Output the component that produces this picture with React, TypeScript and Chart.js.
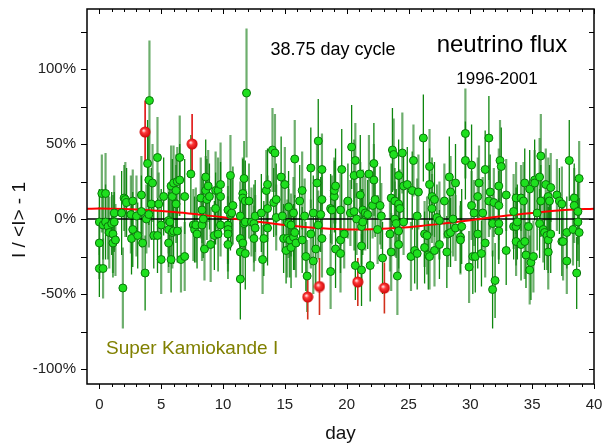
import { useEffect, useRef } from 'react';
import { Chart, registerables } from 'chart.js';

Chart.register(...registerables);

const FONT = '"Liberation Sans", Arial, sans-serif';

// axis ticks
const xTickValues = [0, 5, 10, 15, 20, 25, 30, 35, 40];
const xMinorValues = [1, 2, 3, 4, 6, 7, 8, 9, 11, 12, 13, 14, 16, 17, 18, 19, 21, 22, 23, 24, 26, 27, 28, 29, 31, 32, 33, 34, 36, 37, 38, 39];
const yTickValues = [-100, -50, 0, 50, 100];
const yAllTickValues = [-100, -75, -50, -25, 0, 25, 50, 75, 100, 125];

// [day, I/<I>-1 (%), error (%)] — green points, by day range
const greenDays0to6: number[][] = [
  [0.0, -2, 22], [0.0, -16, 24], [0.0, -33, 19], [0.2, 17, 26], [0.3, -4, 23], [0.3, -33, 20], [0.5, -2, 25], [0.5, 17, 27],
  [0.7, -5, 22], [0.8, -9, 24], [1.0, -3, 21], [1.1, -10, 26], [1.1, -16, 23], [1.2, 4, 25], [1.2, -2, 20], [1.3, -14, 24],
  [1.8, 4, 28], [1.9, -46, 27], [2.0, 14, 22], [2.1, 13, 25], [2.2, 11, 23], [2.55, 3, 26], [2.6, -13, 24], [2.7, 12, 21],
  [2.7, -7, 25], [3.0, 2, 27], [3.1, -11, 22], [3.4, 16, 26], [3.4, 5, 24], [3.5, -16, 20], [3.7, -36, 25], [3.8, 0, 23],
  [3.9, 37, 29], [4.0, 3, 22], [4.0, 26, 30], [4.05, 79, 40], [4.2, 10, 24], [4.3, 24, 26], [4.4, -11, 22], [4.7, 41, 27],
  [4.7, -11, 25], [4.8, 10, 21], [5.0, -4, 24], [5.0, -27, 23], [5.2, 15, 26], [5.6, -1, 22], [5.6, -7, 25], [5.6, -16, 20],
  [5.7, -2, 23], [5.8, 22, 27], [5.8, -27, 22], [5.9, -9, 24], [5.9, 15, 25],
];
const greenDays6to12: number[][] = [
  [6.0, 24, 25], [6.0, -8, 22], [6.2, 19, 24], [6.2, 10, 26], [6.3, 25, 23], [6.3, -8, 21], [6.5, 41, 28], [6.5, 26, 24],
  [6.6, -27, 22], [6.9, 15, 25], [6.9, -25, 23], [7.4, 30, 26], [7.6, -4, 24], [7.7, -7, 22], [7.8, -4, 25], [7.9, -10, 23],
  [8.2, 14, 27], [8.3, 6, 22], [8.3, -4, 24], [8.4, 0, 26], [8.5, -20, 21], [8.6, 28, 25], [8.6, 19, 23], [8.7, 13, 27],
  [8.8, 22, 24], [8.9, 15, 22], [9.0, -17, 25], [9.3, -11, 23], [9.4, 19, 26], [9.4, 7, 24], [9.6, 19, 22], [9.6, -10, 25],
  [9.8, 23, 28], [9.8, 15, 23], [9.8, -4, 21], [10.4, 6, 24], [10.4, -4, 26], [10.4, -7, 22], [10.4, -10, 25], [10.4, -17, 23],
  [10.6, 29, 27], [10.6, 3, 24], [10.7, 4, 22], [10.8, 9, 26], [11.4, 2, 23], [11.4, -13, 25], [11.4, -22, 21], [11.4, -40, 27],
  [11.6, 17, 24], [11.6, 14, 26], [11.6, -16, 22], [11.7, 27, 25], [11.7, -3, 23], [11.8, 12, 27], [11.8, -2, 22], [11.8, -23, 24],
  [11.9, 84, 43], [12.1, 12, 25], [12.3, -2, 23], [12.5, -3, 26], [12.5, -13, 22],
];
const greenDays12to19: number[][] = [
  [12.6, 2, 24], [12.6, -6, 22], [13.1, 4, 26], [13.2, -27, 23], [13.3, -13, 25], [13.5, 19, 27], [13.6, 23, 24], [13.6, 7, 22],
  [13.6, -6, 25], [14.0, 46, 28], [14.1, 11, 23], [14.2, 44, 26], [14.3, 13, 24], [14.3, 1, 22], [14.7, 28, 27], [14.8, 2, 24],
  [14.9, -13, 23], [15.0, 23, 25], [15.1, -21, 22], [15.2, -13, 26], [15.3, 8, 24], [15.3, -3, 23], [15.4, -14, 25], [15.5, -4, 21],
  [15.5, -19, 27], [15.7, 4, 24], [15.7, -12, 22], [15.8, 40, 26], [15.8, -9, 25], [15.9, -16, 23], [16.2, 12, 24], [16.4, 19, 26],
  [16.4, -14, 22], [16.6, 2, 25], [16.7, -25, 23], [16.8, -38, 24], [17.1, 34, 27], [17.1, -10, 23], [17.3, 4, 25], [17.3, -28, 22],
  [17.5, -20, 24], [17.6, 24, 26], [17.7, 52, 28], [17.7, -4, 23], [17.9, 3, 25], [18.0, 33, 24], [18.0, 13, 22], [18.0, -13, 26],
  [18.7, 7, 23], [18.7, -35, 25], [19.0, 15, 24], [19.0, 19, 22], [19.1, -20, 26],
];
const greenDays19to25: number[][] = [
  [18.8, 6, 23], [19.1, 22, 25], [19.5, 6, 24], [19.5, -14, 22], [19.5, -23, 26], [19.6, 33, 27], [19.8, -10, 23], [20.1, 12, 25],
  [20.3, 4, 22], [20.4, 48, 28], [20.6, 29, 24], [20.6, 5, 26], [20.7, 39, 25], [20.7, -31, 23], [20.8, 0, 24], [21.1, 30, 26],
  [21.1, 16, 22], [21.2, -5, 25], [21.2, -18, 23], [21.2, -34, 24], [21.3, 6, 27], [21.3, -2, 22], [21.5, 4, 25], [21.7, 3, 23],
  [21.8, 30, 26], [21.9, -31, 24], [22.1, 9, 22], [22.2, 37, 27], [22.2, 26, 24], [22.3, 13, 25], [22.5, -7, 23], [22.7, 9, 26],
  [22.8, 2, 22], [22.9, -26, 24], [23.5, -10, 25], [23.6, 14, 23], [23.6, -22, 26], [23.7, 46, 28], [23.8, 43, 24], [23.9, 12, 22],
  [23.9, 0, 25], [24.0, -3, 23], [24.1, -38, 26], [24.2, 29, 24], [24.2, 10, 22], [24.2, -8, 25], [24.2, -17, 23], [24.3, 7, 26],
  [24.5, 44, 27], [24.6, 22, 24], [24.6, -2, 22], [24.9, 23, 25], [25.2, -25, 23], [25.3, 19, 26], [25.4, 39, 24], [25.5, -21, 22],
  [25.7, 2, 25], [25.7, -23, 24],
];
const greenDays25to32: number[][] = [
  [25.8, 18, 25], [26.2, 54, 29], [26.3, -10, 22], [26.3, -19, 24], [26.5, -11, 26], [26.6, -24, 23], [26.7, 35, 25], [26.7, 23, 24],
  [26.7, -25, 22], [26.9, 15, 26], [26.9, 7, 23], [27.1, 13, 25], [27.1, -21, 24], [27.3, 1, 22], [27.5, -1, 26], [27.5, -17, 23],
  [27.9, 12, 25], [28.1, -22, 24], [28.2, -10, 22], [28.3, 28, 27], [28.4, 18, 24], [28.4, -9, 23], [28.6, 0, 25], [28.8, 24, 26],
  [28.8, -6, 22], [29.2, -12, 24], [29.2, -14, 23], [29.3, -5, 25], [29.6, 57, 30], [29.6, 39, 26], [29.9, -32, 24], [30.1, 36, 27],
  [30.1, 9, 23], [30.2, -25, 25], [30.3, 4, 22], [30.4, -25, 24], [30.6, 15, 26], [30.6, -10, 23], [30.7, 24, 25], [30.9, -23, 22],
  [31.0, 4, 24], [31.2, 33, 26], [31.2, -16, 23], [31.5, 54, 28], [31.5, 12, 24], [31.6, 18, 25], [31.8, -3, 22], [31.8, -47, 26],
  [31.9, 11, 23], [32.0, -41, 25],
];
const greenDays32to39: number[][] = [
  [32.3, 22, 25], [32.3, 9, 23], [32.3, -3, 24], [32.3, -8, 22], [32.4, 39, 27], [32.5, 35, 26], [32.9, 16, 24], [32.9, -21, 23],
  [33.5, 5, 25], [33.5, -5, 22], [33.7, 14, 24], [33.7, -5, 26], [33.7, -15, 23], [33.8, -2, 25], [34.1, 14, 22], [34.1, -17, 24],
  [34.3, 12, 26], [34.4, 24, 23], [34.4, -15, 25], [34.5, -24, 22], [34.7, -5, 24], [34.8, 20, 26], [34.8, -34, 23], [34.9, -29, 25],
  [35.1, -25, 24], [35.2, 26, 27], [35.2, 24, 22], [35.4, 4, 25], [35.6, 28, 26], [35.6, -3, 23], [35.7, 42, 28], [35.7, 12, 24],
  [35.9, -7, 22], [36.0, -9, 25], [36.1, 23, 24], [36.2, -11, 23], [36.3, 15, 26], [36.3, -14, 22], [36.3, -22, 25], [36.4, 12, 24],
  [36.5, 21, 23], [36.5, -10, 26], [37.0, 16, 24], [37.2, 12, 22], [37.4, 10, 25], [37.4, -15, 23], [37.5, -15, 26], [37.8, -9, 24],
  [37.8, -28, 22], [38.0, 39, 27], [38.3, -7, 24], [38.4, 14, 23], [38.4, 9, 25], [38.6, -36, 24], [38.7, 5, 22], [38.7, -2, 26],
  [38.8, 27, 25], [38.8, -9, 23],
];

// red (flagged) points
const redDays = [3.7, 7.5, 16.85, 17.8, 20.9, 23.05];
const redValues = [58, 50, -52, -45, -42, -46];
const redErrors = [21, 20, 15, 19, 16, 17];

// 38.75-day cycle fit curve
const fitDays = [-1, 0, 2, 4, 6, 8, 10, 12, 14, 16, 18, 20, 22, 24, 26, 28, 30, 32, 34, 36, 38, 40];
const fitValues = [6.8, 7.0, 6.6, 5.8, 4.6, 3.0, 1.2, -1.0, -3.0, -4.8, -6.2, -7.0, -6.9, -6.0, -4.6, -2.8, -0.8, 1.3, 3.2, 4.9, 6.2, 6.9];

const greenPoints = [
  ...greenDays0to6, ...greenDays6to12, ...greenDays12to19,
  ...greenDays19to25, ...greenDays25to32, ...greenDays32to39,
];

function makeRedBall(): HTMLCanvasElement {
  const c = document.createElement('canvas');
  c.width = 12; c.height = 12;
  const g = c.getContext('2d')!;
  const grad = g.createRadialGradient(4.5, 4.5, 0.5, 6, 6, 6);
  grad.addColorStop(0, '#ffe0e0');
  grad.addColorStop(0.3, '#ff3a3a');
  grad.addColorStop(1, '#c80000');
  g.fillStyle = grad;
  g.beginPath();
  g.arc(6, 6, 5.5, 0, Math.PI * 2);
  g.fill();
  return c;
}

const errorBarPlugin = {
  id: 'errorBars',
  beforeDatasetsDraw(chart: any) {
    const { ctx, chartArea: a, scales } = chart;
    const xs = scales.x, ys = scales.y;
    ctx.save();
    ctx.beginPath();
    ctx.rect(a.left, a.top, a.right - a.left, a.bottom - a.top);
    ctx.clip();
    greenPoints.forEach((p, i) => {
      const px = xs.getPixelForValue(p[0]);
      const y1 = ys.getPixelForValue(p[1] + p[2]);
      const y2 = ys.getPixelForValue(p[1] - p[2]);
      ctx.beginPath();
      if (i % 2 === 0) {
        ctx.strokeStyle = '#0d860d';
        ctx.lineWidth = 1.3;
      } else {
        ctx.strokeStyle = 'rgba(40,135,40,0.68)';
        ctx.lineWidth = 2.2;
      }
      ctx.moveTo(px, y1);
      ctx.lineTo(px, y2);
      ctx.stroke();
    });
    redDays.forEach((d, i) => {
      const px = xs.getPixelForValue(d);
      ctx.beginPath();
      ctx.strokeStyle = i < 2 ? '#e01010' : '#d2301c';
      ctx.lineWidth = 1.6;
      ctx.moveTo(px, ys.getPixelForValue(redValues[i] + redErrors[i]));
      ctx.lineTo(px, ys.getPixelForValue(redValues[i] - redErrors[i]));
      ctx.stroke();
    });
    ctx.restore();
  },
};

const framePlugin = {
  id: 'frameAndText',
  afterDraw(chart: any) {
    const { ctx, chartArea: a, scales } = chart;
    const xs = scales.x, ys = scales.y;
    ctx.save();
    ctx.strokeStyle = '#000';
    ctx.lineWidth = 1.5;
    ctx.strokeRect(a.left, a.top, a.right - a.left, a.bottom - a.top);
    ctx.lineWidth = 1;
    ctx.beginPath();
    xTickValues.forEach((v) => {
      const px = Math.round(xs.getPixelForValue(v)) + 0.5;
      ctx.moveTo(px, a.bottom); ctx.lineTo(px, a.bottom + 5);
      ctx.moveTo(px, a.top); ctx.lineTo(px, a.top + 5);
    });
    xMinorValues.forEach((v) => {
      const px = Math.round(xs.getPixelForValue(v)) + 0.5;
      ctx.moveTo(px, a.bottom); ctx.lineTo(px, a.bottom + 3);
      ctx.moveTo(px, a.top); ctx.lineTo(px, a.top + 3);
    });
    yAllTickValues.forEach((v) => {
      const py = Math.round(ys.getPixelForValue(v)) + 0.5;
      ctx.moveTo(a.left - 6, py); ctx.lineTo(a.left, py);
      ctx.moveTo(a.right, py); ctx.lineTo(a.right - 5, py);
    });
    ctx.stroke();

    ctx.fillStyle = '#000';
    ctx.textAlign = 'center';
    ctx.textBaseline = 'alphabetic';
    ctx.font = `18px ${FONT}`;
    ctx.fillText('38.75 day cycle', 333, 55);
    ctx.font = `24px ${FONT}`;
    ctx.fillText('neutrino flux', 502, 52);
    ctx.font = `17px ${FONT}`;
    ctx.fillText('1996-2001', 497, 84);

    ctx.textAlign = 'left';
    ctx.fillStyle = '#808000';
    ctx.font = `19px ${FONT}`;
    ctx.fillText('Super Kamiokande I', 106, 354);

    ctx.fillStyle = '#111';
    ctx.textAlign = 'center';
    ctx.font = `19px ${FONT}`;
    ctx.fillText('day', (a.left + a.right) / 2, 439);

    ctx.save();
    ctx.translate(25, 220);
    ctx.rotate(-Math.PI / 2);
    ctx.fillText('I / <I> - 1', 0, 0);
    ctx.restore();

    ctx.restore();
  },
};

export default function App() {
  const canvasRef = useRef<HTMLCanvasElement | null>(null);

  useEffect(() => {
    const canvas = canvasRef.current;
    if (!canvas) return;
    const redBall = makeRedBall();
    const chart = new Chart(canvas, {
      type: 'scatter',
      data: {
        datasets: [
          {
            label: 'zero',
            data: [{ x: -1, y: 0 }, { x: 40, y: 0 }],
            showLine: true,
            borderColor: '#000',
            borderWidth: 1.5,
            pointRadius: 0,
            order: 4,
          },
          {
            label: 'fit',
            data: fitDays.map((d, i) => ({ x: d, y: fitValues[i] })),
            showLine: true,
            borderColor: '#ff0000',
            borderWidth: 2,
            pointRadius: 0,
            tension: 0.4,
            order: 3,
          },
          {
            label: 'data',
            data: greenPoints.map((p) => ({ x: p[0], y: p[1] })),
            backgroundColor: '#1ee01e',
            borderColor: '#0a760a',
            borderWidth: 1,
            pointRadius: 4,
            order: 2,
          },
          {
            label: 'flagged',
            data: redDays.map((d, i) => ({ x: d, y: redValues[i] })),
            pointStyle: redBall as any,
            backgroundColor: '#ff2020',
            borderColor: '#c00000',
            order: 1,
          },
        ],
      },
      options: {
        responsive: false,
        animation: false,
        events: [],
        layout: { padding: { top: 9, right: 14, left: 0, bottom: 0 } },
        plugins: { legend: { display: false }, tooltip: { enabled: false } },
        scales: {
          x: {
            type: 'linear',
            min: -1,
            max: 40,
            grid: { display: false, drawTicks: false },
            border: { display: false },
            ticks: { font: { family: FONT, size: 15 }, color: '#222', padding: 12, maxRotation: 0, autoSkip: false },
            afterBuildTicks: (s: any) => { s.ticks = xTickValues.map((v) => ({ value: v })); },
            afterFit: (s: any) => {
              s.height = 60;
              s.paddingLeft = 0; s.paddingRight = 0; s.paddingTop = 0; s.paddingBottom = 0;
            },
          },
          y: {
            type: 'linear',
            min: -110,
            max: 140,
            grid: { display: false, drawTicks: false },
            border: { display: false },
            ticks: {
              font: { family: FONT, size: 15 },
              color: '#222',
              padding: 11,
              callback: (v: any) => `${v}%`,
            },
            afterBuildTicks: (s: any) => { s.ticks = yTickValues.map((v) => ({ value: v })); },
            afterFit: (s: any) => {
              s.width = 87;
              s.paddingLeft = 0; s.paddingRight = 0; s.paddingTop = 0; s.paddingBottom = 0;
            },
          },
        },
      },
      plugins: [errorBarPlugin, framePlugin],
    });
    return () => chart.destroy();
  }, []);

  return (
    <div style={{ position: 'absolute', left: 0, top: 0, width: 608, height: 444, background: '#fff' }}>
      <canvas ref={canvasRef} width={608} height={444} style={{ display: 'block' }} />
    </div>
  );
}
